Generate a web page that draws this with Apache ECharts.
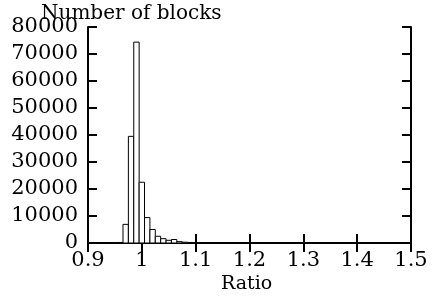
<!DOCTYPE html>
<html>
<head>
<meta charset="utf-8">
<script src="https://cdn.jsdelivr.net/npm/echarts@6/dist/echarts.min.js"></script>
<style>
  html, body { margin: 0; padding: 0; background: #fff; }
  #chart { width: 440px; height: 305px; }
</style>
</head>
<body>
<div id="chart"></div>
<script>
// histogram bins (centres) and counts
const binCenters = [0.96, 0.97, 0.98, 0.99, 1.00, 1.01, 1.02, 1.03, 1.04, 1.05, 1.06, 1.07, 1.08, 1.09]
const counts = [200, 6900, 39500, 74400, 22500, 9400, 5000, 2500, 1600, 1000, 1300, 500, 300, 200]
const binWidth = 0.01
const xTicks = [0.9, 1.5, 0.1] // min, max, step
const yTicks = [0, 80000, 10000]

const font = 'DejaVu Serif'
const fontSize = 21

const myChart = echarts.init(document.getElementById('chart'))

const axisLine = { lineStyle: { color: '#000', width: 2 } }
const tickIn = { inside: true, length: 9, lineStyle: { color: '#000', width: 2 } }

myChart.setOption({
  animation: false,
  title: [
    { text: 'Number of blocks', left: 36, top: -1, textStyle: { fontFamily: font, fontSize: 20, fontWeight: 'normal', color: '#000' } },
    { text: 'Ratio', left: 216, top: 270, textStyle: { fontFamily: font, fontSize: 19, fontWeight: 'normal', color: '#000' } }
  ],
  grid: { left: 88, right: 29, top: 27, bottom: 62 },
  xAxis: [
    {
      type: 'value', min: xTicks[0], max: xTicks[1], interval: xTicks[2],
      axisLine: axisLine, axisTick: tickIn, splitLine: { show: false },
      axisLabel: { color: '#000', fontFamily: font, fontSize: fontSize, margin: 7,
        formatter: v => String(Math.round(v * 10) / 10) }
    },
    {
      type: 'value', position: 'top', min: xTicks[0], max: xTicks[1], interval: xTicks[2],
      axisLine: axisLine, axisTick: tickIn, splitLine: { show: false },
      axisLabel: { show: false }
    }
  ],
  yAxis: [
    {
      type: 'value', min: yTicks[0], max: yTicks[1], interval: yTicks[2],
      axisLine: { show: true, lineStyle: { color: '#000', width: 2 } }, axisTick: tickIn, splitLine: { show: false },
      axisLabel: { color: '#000', fontFamily: font, fontSize: fontSize, margin: 10, formatter: v => String(v) }
    },
    {
      type: 'value', position: 'right', min: yTicks[0], max: yTicks[1], interval: yTicks[2],
      axisLine: { show: true, lineStyle: { color: '#000', width: 2 } }, axisTick: tickIn, splitLine: { show: false },
      axisLabel: { show: false }
    }
  ],
  series: [
    {
      type: 'custom',
      xAxisIndex: 0,
      yAxisIndex: 0,
      data: binCenters.map((c, i) => [c, counts[i]]),
      renderItem: function (params, api) {
        const c = api.value(0)
        const p0 = api.coord([c - binWidth / 2, api.value(1)])
        const p1 = api.coord([c + binWidth / 2, 0])
        return {
          type: 'rect',
          shape: { x: p0[0], y: p0[1], width: p1[0] - p0[0], height: p1[1] - p0[1] },
          style: { fill: '#fff', stroke: '#000', lineWidth: 1 }
        }
      }
    }
  ]
})
</script>
</body>
</html>
